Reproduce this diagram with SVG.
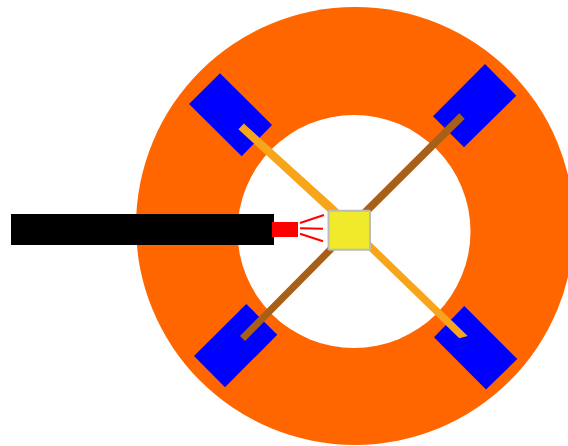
<svg xmlns="http://www.w3.org/2000/svg" width="568" height="446" viewBox="0 0 568 446">
<style>
.pad{fill:#0000ff}
.red{stroke:#ff0000;stroke-width:2;fill:none}
</style>
<rect width="568" height="446" fill="#ffffff"/>
<g id="ring">
<circle cx="355" cy="226" r="219" fill="#ff6600"/>
<circle cx="354" cy="231.5" r="116.5" fill="#ffffff"/>
</g>
<g id="pad-tl"><polygon class="pad" points="220,73.3 272,125 241.7,156.3 189,104"/></g>
<g id="pad-tr"><polygon class="pad" points="485,64 516.3,95.7 464,147.3 433,116.3"/></g>
<g id="pad-bl"><polygon class="pad" points="246.3,304 277.3,334.7 225,387.3 194,356"/></g>
<g id="pad-br"><polygon class="pad" points="464.3,306 517.3,359 486,389.6 434,337.3"/></g>
<g id="connectors">
<polygon points="243.8,123.4 335,206 372.7,244 467.7,336 459.3,338.3 368.3,250 326.7,210.7 238.4,129.3" fill="#f9a51b"/>
<polygon points="459.3,113.3 464.7,118.7 372.5,210.5 335,250 245,341 240,336 325.7,249.3 363,209" fill="#a86018"/>
<line class="red" x1="300" y1="223" x2="324" y2="215"/>
<line class="red" x1="300" y1="228.3" x2="323" y2="228.7"/>
<line class="red" x1="300" y1="233.7" x2="323" y2="241.3"/>
</g>
<g id="probe">
<rect x="11" y="214" width="263" height="31" fill="#000000"/>
<rect x="272" y="222" width="26" height="15" fill="#ff0000"/>
</g>
<g id="chip"><rect x="328.5" y="210.8" width="41.5" height="39" rx="1" fill="#f0ea2a" stroke="#bbbbbb" stroke-width="2"/></g>
</svg>
